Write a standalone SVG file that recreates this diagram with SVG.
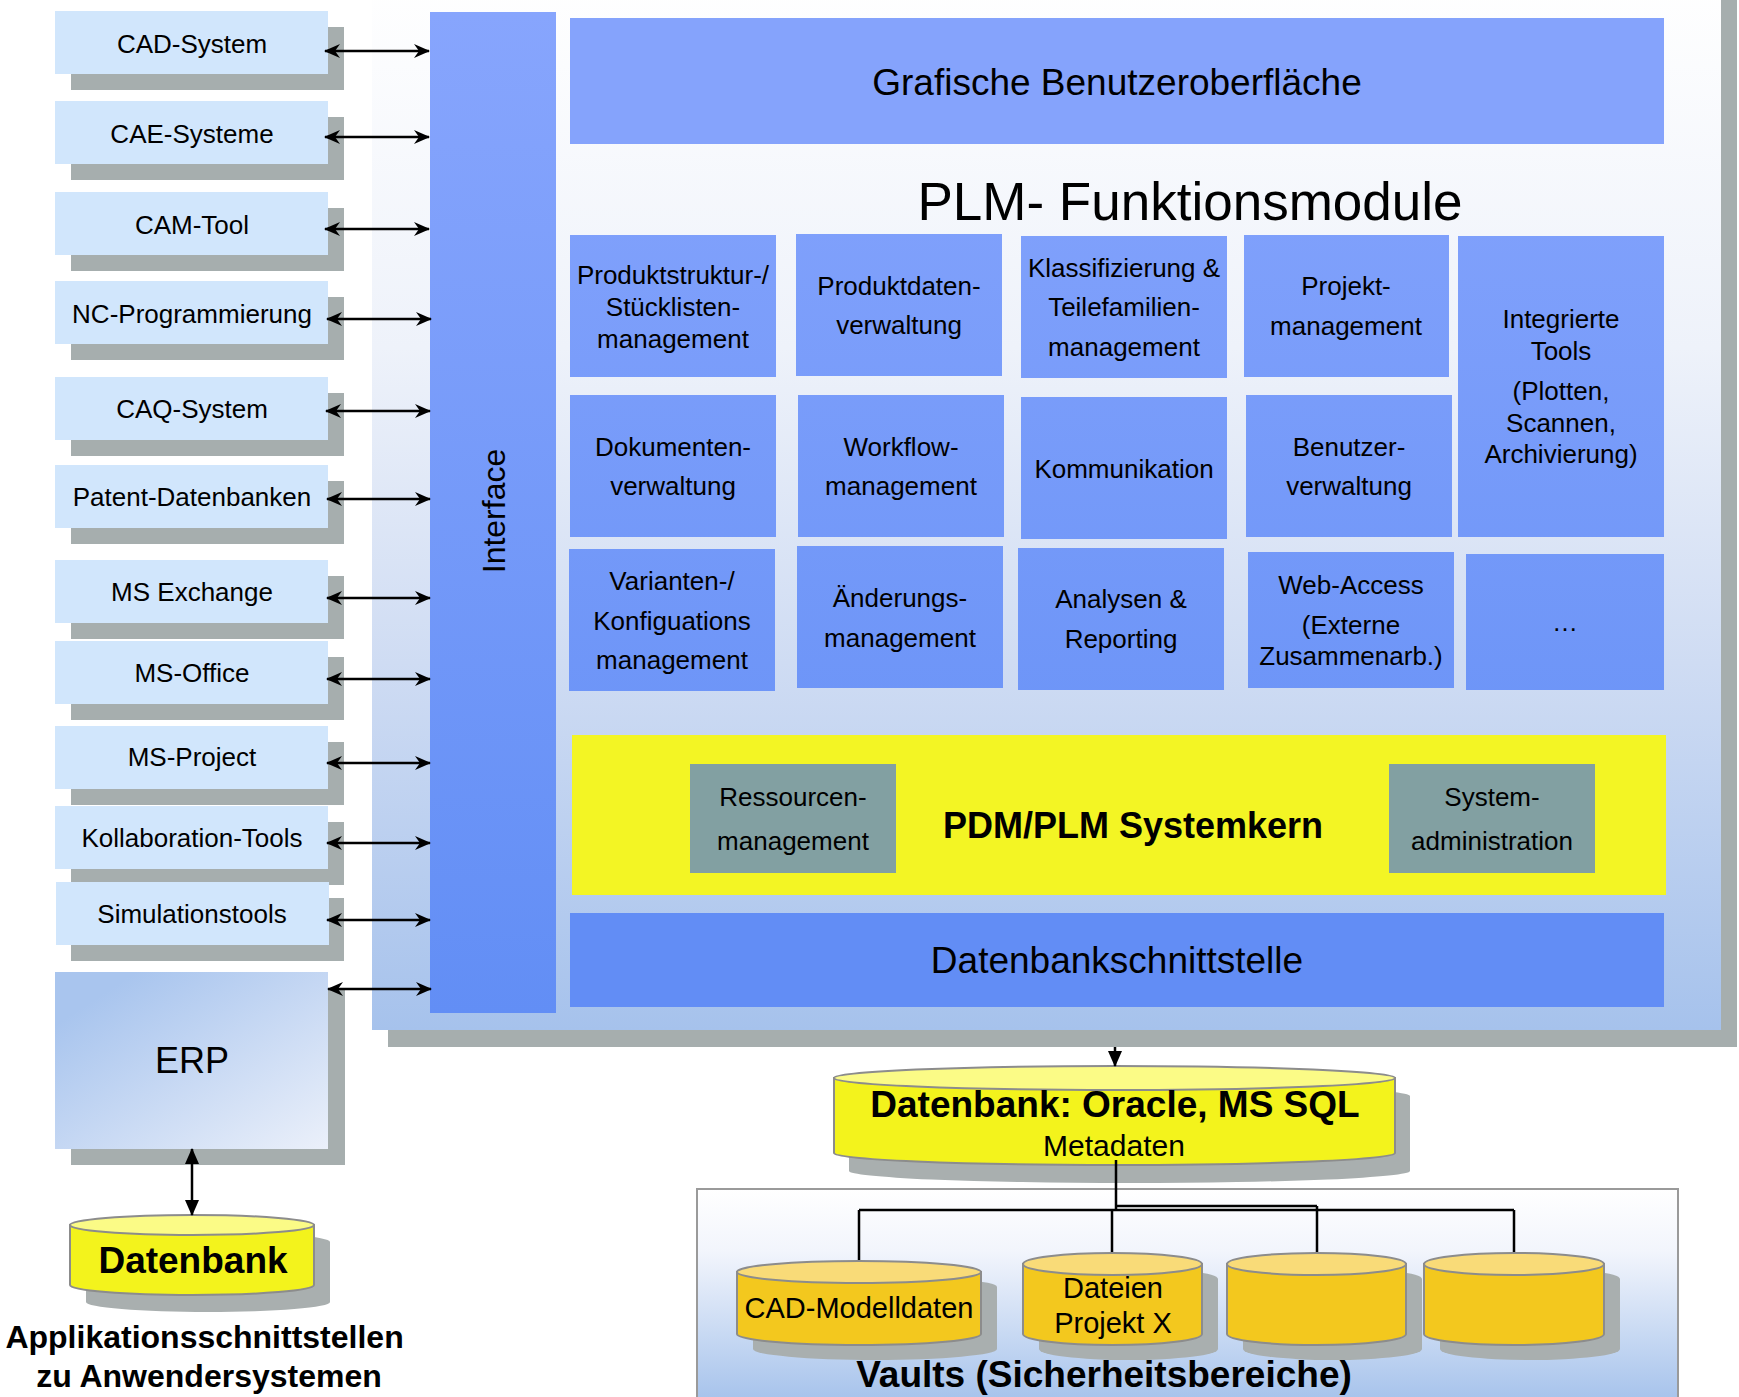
<svg xmlns="http://www.w3.org/2000/svg" width="1739" height="1397" viewBox="0 0 1739 1397">
  <style>
    text { font-family: "Liberation Sans", Arial, sans-serif; fill: #000; }
    .app rect.box { fill: #d1e6fc; }
    .shadow { fill: #a6aeae; }
    .app text { font-size: 26px; text-anchor: middle; }
    .mod rect { fill: url(#modGrad); }
    .mod text { font-size: 26px; text-anchor: middle; }
    .core rect { fill: #82a0a2; }
    .core text { font-size: 26px; text-anchor: middle; }
    .big { font-size: 37px; text-anchor: middle; }
    .link { stroke: #000; stroke-width: 2.5; fill: none; }
    .tree { stroke: #000; stroke-width: 2.5; fill: none; }
    .cylY .body { fill: #f3f31c; stroke: #8c8c8c; stroke-width: 2; }
    .cylY .lid { fill: #fbfb86; stroke: #8c8c8c; stroke-width: 2; }
    .cylO .body { fill: #f3c81e; stroke: #8c8c8c; stroke-width: 2; }
    .cylO .lid { fill: #f9db78; stroke: #8c8c8c; stroke-width: 2; }
    .cylS { fill: #a9afaf; }
  </style>
  <defs>
    <linearGradient id="panelGrad" x1="0" y1="-20" x2="0" y2="1030" gradientUnits="userSpaceOnUse">
      <stop offset="0" stop-color="#ffffff"/>
      <stop offset="0.35" stop-color="#eef2fa"/>
      <stop offset="0.65" stop-color="#cfdcf3"/>
      <stop offset="1" stop-color="#a6c2ec"/>
    </linearGradient>
    <linearGradient id="modGrad" x1="0" y1="12" x2="0" y2="1013" gradientUnits="userSpaceOnUse">
      <stop offset="0" stop-color="#87a5fd"/>
      <stop offset="1" stop-color="#628ef5"/>
    </linearGradient>
    <linearGradient id="erpGrad" x1="0" y1="0" x2="1" y2="1">
      <stop offset="0.15" stop-color="#a9c5ee"/>
      <stop offset="1" stop-color="#ebf0fa"/>
    </linearGradient>
    <linearGradient id="vaultGrad" x1="0" y1="1189" x2="0" y2="1397" gradientUnits="userSpaceOnUse">
      <stop offset="0" stop-color="#ffffff"/>
      <stop offset="0.3" stop-color="#f2f5fc"/>
      <stop offset="1" stop-color="#a8c4ec"/>
    </linearGradient>
    <marker id="stealth" viewBox="0 0 16 14" refX="15" refY="7" markerWidth="16" markerHeight="14" markerUnits="userSpaceOnUse" orient="auto-start-reverse">
      <path d="M0,0 L16,7 L0,14 L5,7 Z" fill="#000"/>
    </marker>
    <marker id="tri" viewBox="0 0 16 14" refX="15" refY="7" markerWidth="16" markerHeight="14" markerUnits="userSpaceOnUse" orient="auto-start-reverse">
      <path d="M0,0 L16,7 L0,14 Z" fill="#000"/>
    </marker>
  </defs>

  <rect width="1739" height="1397" fill="#ffffff"/>

  <!-- PLM system panel with drop shadow -->
  <g id="plm-panel">
    <rect class="shadow" x="388" y="-4" width="1349" height="1051"/>
    <rect x="372" y="-20" width="1349" height="1050" fill="url(#panelGrad)"/>
  </g>

  <!-- vertical interface bar -->
  <g id="interface">
    <rect x="430" y="12" width="126" height="1001" fill="url(#modGrad)"/>
    <text x="0" y="0" transform="translate(505,511) rotate(-90)" font-size="32" text-anchor="middle">Interface</text>
  </g>

  <g id="gui">
    <rect x="570" y="18" width="1094" height="126" fill="#85a3fc"/>
    <text class="big" x="1117" y="95">Grafische Benutzeroberfläche</text>
  </g>

  <text id="plm-title" x="1190" y="220" font-size="53" text-anchor="middle">PLM- Funktionsmodule</text>

  <!-- function modules -->
  <g id="m-produktstruktur" class="mod">
    <rect x="570" y="235" width="206" height="142"/>
    <text x="673" y="284" font-size="25">Produktstruktur-/</text>
    <text x="673" y="316" font-size="25">Stücklisten-</text>
    <text x="673" y="348" font-size="25">management</text>
  </g>
  <g id="m-produktdaten" class="mod">
    <rect x="796" y="234" width="206" height="142"/>
    <text x="899" y="295">Produktdaten-</text>
    <text x="899" y="334">verwaltung</text>
  </g>
  <g id="m-klassifizierung" class="mod">
    <rect x="1021" y="236" width="206" height="142"/>
    <text x="1124" y="277">Klassifizierung &amp;</text>
    <text x="1124" y="316">Teilefamilien-</text>
    <text x="1124" y="356">management</text>
  </g>
  <g id="m-projekt" class="mod">
    <rect x="1244" y="235" width="205" height="142"/>
    <text x="1346" y="295">Projekt-</text>
    <text x="1346" y="335">management</text>
  </g>
  <g id="m-tools" class="mod">
    <rect x="1458" y="236" width="206" height="301"/>
    <text x="1561" y="328">Integrierte</text>
    <text x="1561" y="360">Tools</text>
    <text x="1561" y="400">(Plotten,</text>
    <text x="1561" y="432">Scannen,</text>
    <text x="1561" y="463">Archivierung)</text>
  </g>
  <g id="m-dokumente" class="mod">
    <rect x="570" y="395" width="206" height="142"/>
    <text x="673" y="456">Dokumenten-</text>
    <text x="673" y="495">verwaltung</text>
  </g>
  <g id="m-workflow" class="mod">
    <rect x="798" y="395" width="206" height="142"/>
    <text x="901" y="456">Workflow-</text>
    <text x="901" y="495">management</text>
  </g>
  <g id="m-kommunikation" class="mod">
    <rect x="1021" y="397" width="206" height="142"/>
    <text x="1124" y="478">Kommunikation</text>
  </g>
  <g id="m-benutzer" class="mod">
    <rect x="1246" y="395" width="206" height="142"/>
    <text x="1349" y="456">Benutzer-</text>
    <text x="1349" y="495">verwaltung</text>
  </g>
  <g id="m-varianten" class="mod">
    <rect x="569" y="549" width="206" height="142"/>
    <text x="672" y="590">Varianten-/</text>
    <text x="672" y="630">Konfiguations</text>
    <text x="672" y="669">management</text>
  </g>
  <g id="m-aenderung" class="mod">
    <rect x="797" y="546" width="206" height="142"/>
    <text x="900" y="607">Änderungs-</text>
    <text x="900" y="647">management</text>
  </g>
  <g id="m-analysen" class="mod">
    <rect x="1018" y="548" width="206" height="142"/>
    <text x="1121" y="608">Analysen &amp;</text>
    <text x="1121" y="648">Reporting</text>
  </g>
  <g id="m-webaccess" class="mod">
    <rect x="1248" y="552" width="206" height="136"/>
    <text x="1351" y="594">Web-Access</text>
    <text x="1351" y="634">(Externe</text>
    <text x="1351" y="665">Zusammenarb.)</text>
  </g>
  <g id="m-more" class="mod">
    <rect x="1466" y="554" width="198" height="136"/>
    <text x="1565" y="631">…</text>
  </g>

  <!-- system core -->
  <g id="systemkern">
    <rect x="572" y="735" width="1094" height="160" fill="#f3f524"/>
    <text x="1133" y="838" font-size="36" font-weight="bold" text-anchor="middle">PDM/PLM Systemkern</text>
  </g>
  <g id="ressourcen" class="core">
    <rect x="690" y="764" width="206" height="109"/>
    <text x="793" y="806">Ressourcen-</text>
    <text x="793" y="850">management</text>
  </g>
  <g id="sysadmin" class="core">
    <rect x="1389" y="764" width="206" height="109"/>
    <text x="1492" y="806">System-</text>
    <text x="1492" y="850">administration</text>
  </g>

  <g id="db-schnittstelle">
    <rect x="570" y="913" width="1094" height="94" fill="#628df5"/>
    <text class="big" x="1117" y="973">Datenbankschnittstelle</text>
  </g>

  <!-- application systems on the left -->
  <g id="app-cad" class="app">
    <rect class="shadow" x="71" y="27" width="273" height="63"/>
    <rect class="box" x="55" y="11" width="273" height="63"/>
    <text x="192" y="53">CAD-System</text>
  </g>
  <g id="app-cae" class="app">
    <rect class="shadow" x="71" y="117" width="273" height="63"/>
    <rect class="box" x="55" y="101" width="273" height="63"/>
    <text x="192" y="143">CAE-Systeme</text>
  </g>
  <g id="app-cam" class="app">
    <rect class="shadow" x="71" y="208" width="273" height="63"/>
    <rect class="box" x="55" y="192" width="273" height="63"/>
    <text x="192" y="234">CAM-Tool</text>
  </g>
  <g id="app-nc" class="app">
    <rect class="shadow" x="71" y="297" width="273" height="63"/>
    <rect class="box" x="55" y="281" width="273" height="63"/>
    <text x="192" y="323">NC-Programmierung</text>
  </g>
  <g id="app-caq" class="app">
    <rect class="shadow" x="71" y="393" width="273" height="63"/>
    <rect class="box" x="55" y="377" width="273" height="63"/>
    <text x="192" y="418">CAQ-System</text>
  </g>
  <g id="app-patent" class="app">
    <rect class="shadow" x="71" y="481" width="273" height="63"/>
    <rect class="box" x="55" y="465" width="273" height="63"/>
    <text x="192" y="506">Patent-Datenbanken</text>
  </g>
  <g id="app-exchange" class="app">
    <rect class="shadow" x="71" y="576" width="273" height="63"/>
    <rect class="box" x="55" y="560" width="273" height="63"/>
    <text x="192" y="601">MS Exchange</text>
  </g>
  <g id="app-office" class="app">
    <rect class="shadow" x="71" y="657" width="273" height="63"/>
    <rect class="box" x="55" y="641" width="273" height="63"/>
    <text x="192" y="682">MS-Office</text>
  </g>
  <g id="app-project" class="app">
    <rect class="shadow" x="71" y="742" width="273" height="63"/>
    <rect class="box" x="55" y="726" width="273" height="63"/>
    <text x="192" y="766">MS-Project</text>
  </g>
  <g id="app-kollab" class="app">
    <rect class="shadow" x="71" y="822" width="273" height="63"/>
    <rect class="box" x="55" y="806" width="273" height="63"/>
    <text x="192" y="847">Kollaboration-Tools</text>
  </g>
  <g id="app-simulation" class="app">
    <rect class="shadow" x="71" y="898" width="273" height="63"/>
    <rect class="box" x="56" y="882" width="273" height="63"/>
    <text x="192" y="923">Simulationstools</text>
  </g>
  <g id="app-erp">
    <rect class="shadow" x="71" y="988" width="274" height="177"/>
    <rect x="55" y="972" width="273" height="177" fill="url(#erpGrad)"/>
    <text x="192" y="1073" font-size="36" text-anchor="middle">ERP</text>
  </g>

  <!-- ERP database -->
  <g id="erp-db" class="cylY">
    <path class="cylS" d="M86,1242 L86,1302 A122,10 0 0 0 330,1302 L330,1242 A122,10 0 0 0 86,1242 Z"/>
    <path class="body" d="M70,1225 L70,1285 A122,10 0 0 0 314,1285 L314,1225 Z"/>
    <ellipse class="lid" cx="192" cy="1225" rx="122" ry="10"/>
    <text x="193" y="1273" font-size="37" font-weight="bold" text-anchor="middle">Datenbank</text>
  </g>

  <text id="caption" font-size="32" font-weight="bold" text-anchor="middle">
    <tspan x="209" y="1348">Applikationsschnittstellen</tspan>
    <tspan x="209" y="1387">zu Anwendersystemen</tspan>
  </text>

  <!-- vault area -->
  <g id="vaults">
    <rect x="697" y="1189" width="981" height="220" fill="url(#vaultGrad)" stroke="#9a9a9a" stroke-width="2"/>
    <text x="1104" y="1387" font-size="37" font-weight="bold" text-anchor="middle">Vaults (Sicherheitsbereiche)</text>
  </g>

  <!-- central metadata database -->
  <g id="meta-db" class="cylY">
    <path class="cylS" d="M849,1096 L849,1171 A280.5,12 0 0 0 1410,1171 L1410,1096 A280.5,12 0 0 0 849,1096 Z"/>
    <path class="body" d="M834,1078 L834,1153 A280.5,12 0 0 0 1395,1153 L1395,1078 Z"/>
    <ellipse class="lid" cx="1114.5" cy="1078" rx="280.5" ry="12"/>
    <text x="1115" y="1117" font-size="37" font-weight="bold" text-anchor="middle">Datenbank: Oracle, MS SQL</text>
    <text x="1114" y="1156" font-size="30" text-anchor="middle">Metadaten</text>
  </g>

  <!-- connectors -->
  <g id="connectors">
    <line class="link" x1="325" y1="51" x2="429" y2="51" marker-start="url(#stealth)" marker-end="url(#stealth)"/>
    <line class="link" x1="325" y1="137" x2="429" y2="137" marker-start="url(#stealth)" marker-end="url(#stealth)"/>
    <line class="link" x1="325" y1="229" x2="429" y2="229" marker-start="url(#stealth)" marker-end="url(#stealth)"/>
    <line class="link" x1="327" y1="319" x2="431" y2="319" marker-start="url(#stealth)" marker-end="url(#stealth)"/>
    <line class="link" x1="326" y1="411" x2="430" y2="411" marker-start="url(#stealth)" marker-end="url(#stealth)"/>
    <line class="link" x1="327" y1="499" x2="430" y2="499" marker-start="url(#stealth)" marker-end="url(#stealth)"/>
    <line class="link" x1="327" y1="598" x2="430" y2="598" marker-start="url(#stealth)" marker-end="url(#stealth)"/>
    <line class="link" x1="327" y1="679" x2="430" y2="679" marker-start="url(#stealth)" marker-end="url(#stealth)"/>
    <line class="link" x1="327" y1="763" x2="430" y2="763" marker-start="url(#stealth)" marker-end="url(#stealth)"/>
    <line class="link" x1="327" y1="843" x2="430" y2="843" marker-start="url(#stealth)" marker-end="url(#stealth)"/>
    <line class="link" x1="327" y1="920" x2="430" y2="920" marker-start="url(#stealth)" marker-end="url(#stealth)"/>
    <line class="link" x1="328" y1="989" x2="431" y2="989" marker-start="url(#stealth)" marker-end="url(#stealth)"/>
    <line class="link" x1="192" y1="1149" x2="192" y2="1215" marker-start="url(#tri)" marker-end="url(#tri)"/>
    <line class="link" x1="1115" y1="1047" x2="1115" y2="1066" marker-end="url(#tri)"/>
    <path class="tree" d="M1116,1160 L1116,1210 M859,1210 L1514,1210 M1116,1206 L1317,1206 M859,1210 L859,1261 M1112,1210 L1112,1253 M1317,1206 L1317,1253 M1514,1210 L1514,1253"/>
  </g>

  <!-- vault cylinders -->
  <g id="vault-cad" class="cylO">
    <path class="cylS" d="M753,1287 L753,1349 A122,11 0 0 0 997,1349 L997,1287 A122,11 0 0 0 753,1287 Z"/>
    <path class="body" d="M737,1272 L737,1334 A122,11 0 0 0 981,1334 L981,1272 Z"/>
    <ellipse class="lid" cx="859" cy="1272" rx="122" ry="11"/>
    <text x="859" y="1318" font-size="29" text-anchor="middle">CAD-Modelldaten</text>
  </g>
  <g id="vault-projekt" class="cylO">
    <path class="cylS" d="M1039,1279 L1039,1349 A89.5,11 0 0 0 1218,1349 L1218,1279 A89.5,11 0 0 0 1039,1279 Z"/>
    <path class="body" d="M1023,1264 L1023,1334 A89.5,11 0 0 0 1202,1334 L1202,1264 Z"/>
    <ellipse class="lid" cx="1112.5" cy="1264" rx="89.5" ry="11"/>
    <text x="1113" y="1298" font-size="29" text-anchor="middle">Dateien</text>
    <text x="1113" y="1333" font-size="29" text-anchor="middle">Projekt X</text>
  </g>
  <g id="vault-3" class="cylO">
    <path class="cylS" d="M1243,1279 L1243,1349 A89.5,11 0 0 0 1422,1349 L1422,1279 A89.5,11 0 0 0 1243,1279 Z"/>
    <path class="body" d="M1227,1264 L1227,1334 A89.5,11 0 0 0 1406,1334 L1406,1264 Z"/>
    <ellipse class="lid" cx="1316.5" cy="1264" rx="89.5" ry="11"/>
  </g>
  <g id="vault-4" class="cylO">
    <path class="cylS" d="M1440,1279 L1440,1349 A90,11 0 0 0 1620,1349 L1620,1279 A90,11 0 0 0 1440,1279 Z"/>
    <path class="body" d="M1424,1264 L1424,1334 A90,11 0 0 0 1604,1334 L1604,1264 Z"/>
    <ellipse class="lid" cx="1514" cy="1264" rx="90" ry="11"/>
  </g>
</svg>
